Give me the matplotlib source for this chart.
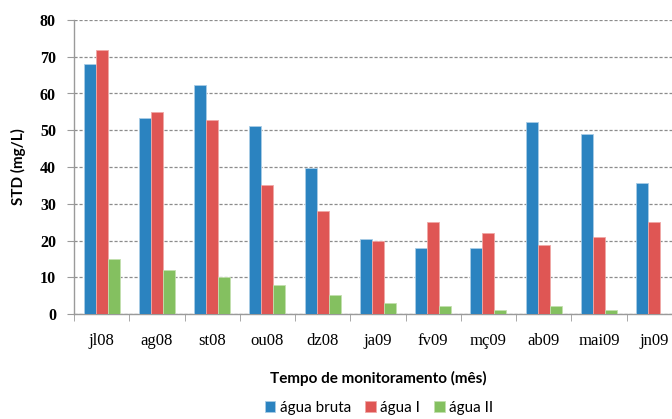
import matplotlib
matplotlib.use("Agg")
import matplotlib.pyplot as plt
import numpy as np

categories = ["jl08", "ag08", "st08", "ou08", "dz08", "ja09", "fv09", "mç09", "ab09", "mai09", "jn09"]
agua_bruta = [68.1, 53.3, 62.3, 51.2, 39.6, 20.4, 18.0, 18.0, 52.2, 49.0, 35.6]
agua_I = [71.9, 54.9, 52.8, 35.1, 28.0, 20.0, 25.0, 22.0, 18.8, 21.0, 25.0]
agua_II = [15.0, 12.0, 10.1, 8.0, 5.1, 3.0, 2.1, 1.1, 2.1, 1.1, 0.0]
series_names = ["água bruta", "água I", "água II"]
colors = ["#2B83C0", "#DF5654", "#84C060"]
edge_colors = ["#A9CDE6", "#F0A8A6", "#C3E0AE"]

fig = plt.figure(figsize=(6.72, 4.19), dpi=100)
ax = fig.add_axes([74/672, 105/419, (681.75-74)/672, (314-20)/419])

x = np.arange(len(categories))
w = 0.216
for i, (vals, c, ec, name) in enumerate(zip([agua_bruta, agua_I, agua_II], colors, edge_colors, series_names)):
    ax.bar(x + (i - 1) * w, vals, width=w, color=c, edgecolor=ec, linewidth=0.6, label=name, zorder=3)

ax.set_xlim(-0.5, len(categories) - 0.5)
ax.set_ylim(0, 80)
ax.set_yticks(np.arange(0, 81, 10))
ax.yaxis.grid(True, linestyle=(0, (2.5, 1.5)), color="#8c8c8c", linewidth=0.9, zorder=0)
ax.set_axisbelow(True)

ax.set_xticks(x)
ax.set_xticklabels(categories, fontfamily="Liberation Serif", fontsize=12)
ax.set_xticks(np.arange(-0.5, len(categories)), minor=True)
ax.tick_params(axis="x", which="major", length=0, pad=14)
ax.tick_params(axis="x", which="minor", length=5, color="#9a9a9a", direction="out")
ax.tick_params(axis="y", length=5, color="#9a9a9a", direction="out", pad=8)
for lab in ax.get_yticklabels():
    lab.set_fontfamily("Liberation Serif")
    lab.set_fontsize(11.5)
    lab.set_fontweight("bold")

for s in ["top", "right"]:
    ax.spines[s].set_visible(False)
for s in ["left", "bottom"]:
    ax.spines[s].set_color("#9a9a9a")
    ax.spines[s].set_linewidth(1.0)

ax.set_ylabel("STD (mg/L)", fontfamily="Lato", fontweight="bold", fontsize=11, labelpad=10)
fig.text(378/672, 1 - 378/419, "Tempo de monitoramento (mês)", ha="center", va="center",
         fontfamily="Lato", fontweight="bold", fontsize=11)

handles, labels = ax.get_legend_handles_labels()
fig.legend(handles, labels, loc="center", bbox_to_anchor=(379/672, 1 - 408/419), ncol=3,
           frameon=False, prop={"family": "Lato", "size": 11}, handlelength=0.7, handleheight=0.7,
           handletextpad=0.3, columnspacing=0.9, borderpad=0)

fig.savefig("out.png", dpi=100)
